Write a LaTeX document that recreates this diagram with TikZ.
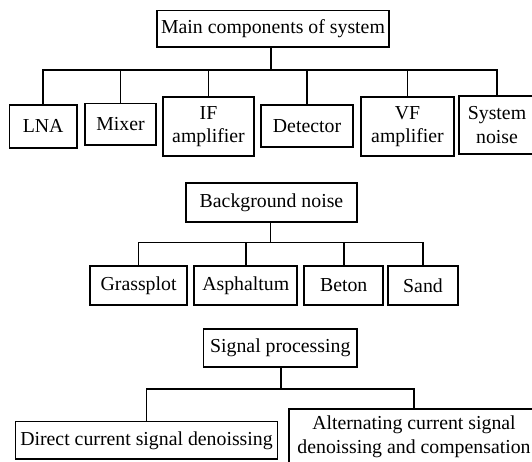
\documentclass[tikz,border=0pt]{standalone}
\usepackage{fontspec}
\setmainfont{Liberation Serif}
\newcommand{\branch}[2]{\draw (#2.north) |- (#1);}

\begin{document}
\begin{tikzpicture}[x=1pt,y=-1pt,line width=1.6pt,
    box/.style={draw,align=center,inner sep=1pt,font=\fontsize{19.8}{23.5}\selectfont}]
  \useasboundingbox (0,0) rectangle (532,462);
  \clip (0,0) rectangle (532,462);
  % system components
  \node[box,minimum width=232pt,minimum height=36.5pt] (main) at (273,28.7) {Main components of system};
  \node[box,minimum width=67.5pt,minimum height=42.7pt] (lna) at (43.2,126.4) {LNA};
  \node[box,minimum width=71pt,minimum height=41.7pt] (mixer) at (120.5,124.2) {Mixer};
  \node[box,minimum width=91pt,minimum height=59pt] (ifamp) at (208.5,126.5) {IF\\amplifier};
  \node[box,minimum width=92pt,minimum height=42pt] (detector) at (307,126) {Detector};
  \node[box,minimum width=93pt,minimum height=59pt] (vfamp) at (407.5,126.5) {VF\\amplifier};
  \node[box,minimum width=76pt,minimum height=58pt] (sysnoise) at (497,125) {System\\noise};
  \coordinate (bus1) at (271,70);
  \draw (main.south -| bus1) -- (bus1);
  \foreach \n in {lna,mixer,ifamp,detector,vfamp,sysnoise}
    {\branch{bus1}{\n}}
  % background noise
  \node[box,minimum width=171pt,minimum height=39pt] (bg) at (271.5,202.5) {Background noise};
  \node[box,minimum width=97pt,minimum height=39pt] (grass) at (138.6,285.5) {Grassplot};
  \node[box,minimum width=103pt,minimum height=39pt] (asph) at (245.7,285.5) {Asphaltum};
  \node[box,minimum width=79pt,minimum height=39pt] (beton) at (343.7,285.5) {Beton};
  \node[box,minimum width=70pt,minimum height=39pt] (sand) at (423,285.5) {Sand};
  \coordinate (bus2) at (270.4,242.5);
  \draw (bg.south -| bus2) -- (bus2);
  \foreach \n in {grass,asph,beton,sand}
    {\branch{bus2}{\n}}
  % signal processing
  \node[box,minimum width=153.4pt,minimum height=38pt] (sig) at (280.3,347.8) {Signal processing};
  \node[box,minimum width=262pt,minimum height=37.3pt] (dc) at (146.5,440.3) {Direct current signal denoissing};
  \node[box,minimum width=250pt,minimum height=56pt] (ac) at (414,437) {Alternating current signal\\denoissing and compensation};
  \coordinate (bus3) at (281,389);
  \draw (sig.south -| bus3) -- (bus3);
  \branch{bus3}{dc}
  \branch{bus3}{ac}
\end{tikzpicture}
\end{document}
